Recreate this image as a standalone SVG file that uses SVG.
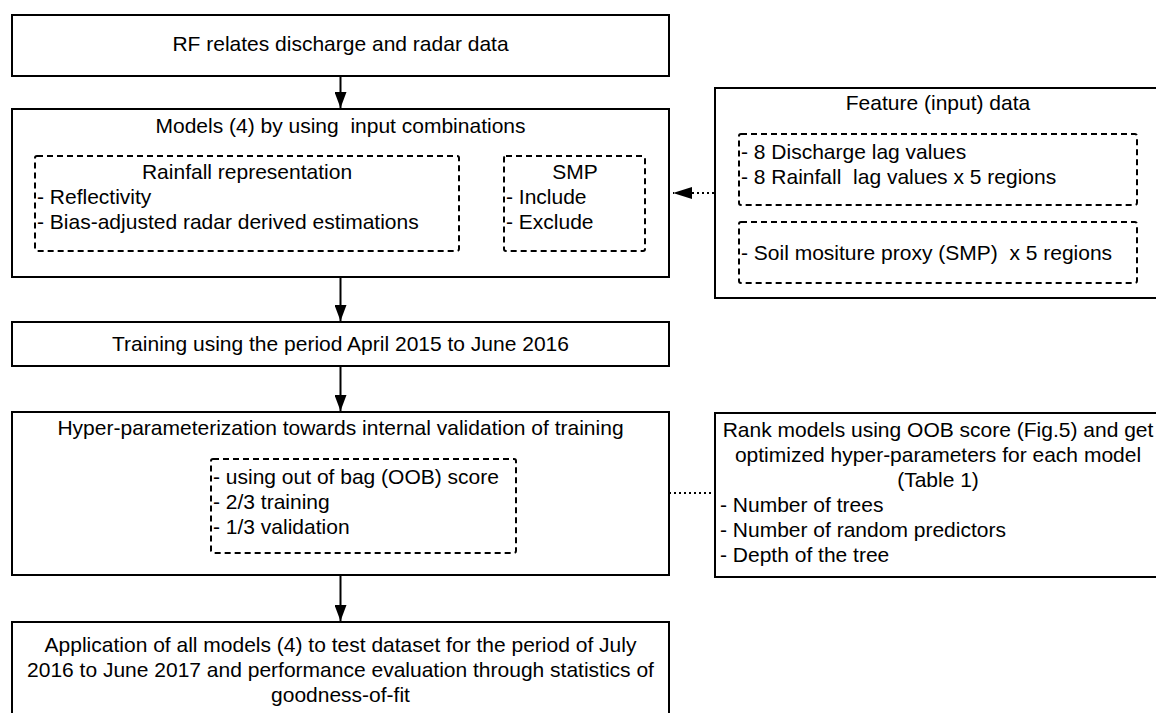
<svg xmlns="http://www.w3.org/2000/svg" width="1156" height="713" viewBox="0 0 1156 713">
<defs>
<style>
.box{fill:#fff;stroke:#000;stroke-width:2}
.dash{fill:none;stroke:#000;stroke-width:2;stroke-dasharray:6 4}
.t{font-family:"Liberation Sans",Arial,sans-serif;font-size:21px;fill:#000;white-space:pre}
.c{text-anchor:middle}
.edge{fill:none;stroke:#000;stroke-width:2}
.dot{fill:none;stroke:#000;stroke-width:2;stroke-dasharray:2 3}
</style>
<marker id="ah" viewBox="0 0 16 12" refX="16" refY="6" markerWidth="16" markerHeight="12" markerUnits="userSpaceOnUse" orient="auto">
<path d="M0,0 L16,6 L0,12 z" fill="#000"/>
</marker>
<marker id="ah2" viewBox="0 0 19 12" refX="19" refY="6" markerWidth="19" markerHeight="12" markerUnits="userSpaceOnUse" orient="auto">
<path d="M0,0 L19,6 L0,12 z" fill="#000"/>
</marker>
</defs>
<rect width="1156" height="713" fill="#fff"/>
<g id="connectors">
<line class="edge" x1="340.5" y1="76" x2="340.5" y2="108" marker-end="url(#ah)"/>
<line class="edge" x1="340.5" y1="277" x2="340.5" y2="321" marker-end="url(#ah)"/>
<line class="edge" x1="340.5" y1="366" x2="340.5" y2="411" marker-end="url(#ah)"/>
<line class="edge" x1="340.5" y1="575" x2="340.5" y2="621" marker-end="url(#ah)"/>
<line class="dot" x1="714" y1="193" x2="673" y2="193" marker-end="url(#ah2)"/>
<line class="dot" x1="669" y1="493" x2="715" y2="493"/>
</g>
<g id="n-rf">
<rect class="box" x="12" y="15" width="657" height="61"/>
<text class="t c" x="340.5" y="51">RF relates discharge and radar data</text>
</g>
<g id="n-models">
<rect class="box" x="12" y="109" width="657" height="168"/>
<text class="t c" x="340.5" y="133">Models (4) by using  input combinations</text>
<g id="n-rainfall">
<rect class="dash" x="35" y="156" width="424" height="95" rx="2"/>
<text class="t c" x="247" y="179">Rainfall representation</text>
<text class="t" x="37" y="204">- Reflectivity</text>
<text class="t" x="37" y="229">- Bias-adjusted radar derived estimations</text>
</g>
<g id="n-smp">
<rect class="dash" x="504" y="156" width="141" height="95" rx="2"/>
<text class="t c" x="575" y="179">SMP</text>
<text class="t" x="506" y="204">- Include</text>
<text class="t" x="506" y="229">- Exclude</text>
</g>
</g>
<g id="n-feature">
<rect class="box" x="715" y="88" width="450" height="210"/>
<text class="t c" x="938" y="110">Feature (input) data</text>
<rect class="dash" x="739" y="134" width="398" height="71" rx="2"/>
<text class="t" x="741" y="159">- 8 Discharge lag values</text>
<text class="t" x="741" y="184">- 8 Rainfall  lag values x 5 regions</text>
<rect class="dash" x="739" y="222" width="398" height="61" rx="2"/>
<text class="t" x="741" y="260">- Soil mositure proxy (SMP)  x 5 regions</text>
</g>
<g id="n-training">
<rect class="box" x="12" y="322" width="657" height="44"/>
<text class="t c" x="340.5" y="351">Training using the period April 2015 to June 2016</text>
</g>
<g id="n-hyper">
<rect class="box" x="12" y="412" width="657" height="163"/>
<text class="t c" x="340.5" y="435">Hyper-parameterization towards internal validation of training</text>
<rect class="dash" x="211" y="459" width="305" height="94" rx="2"/>
<text class="t" x="213" y="484">- using out of bag (OOB) score</text>
<text class="t" x="213" y="509">- 2/3 training</text>
<text class="t" x="213" y="534">- 1/3 validation</text>
</g>
<g id="n-rank">
<rect class="box" x="715" y="413" width="450" height="164"/>
<text class="t c" x="938" y="437">Rank models using OOB score (Fig.5) and get</text>
<text class="t c" x="938" y="462">optimized hyper-parameters for each model</text>
<text class="t c" x="938" y="487">(Table 1)</text>
<text class="t" x="720" y="512">- Number of trees</text>
<text class="t" x="720" y="537">- Number of random predictors</text>
<text class="t" x="720" y="562">- Depth of the tree</text>
</g>
<g id="n-application">
<rect class="box" x="12" y="622" width="657" height="120"/>
<text class="t c" x="340.5" y="652">Application of all models (4) to test dataset for the period of July</text>
<text class="t c" x="340.5" y="677">2016 to June 2017 and performance evaluation through statistics of</text>
<text class="t c" x="340.5" y="702">goodness-of-fit</text>
</g>
</svg>
